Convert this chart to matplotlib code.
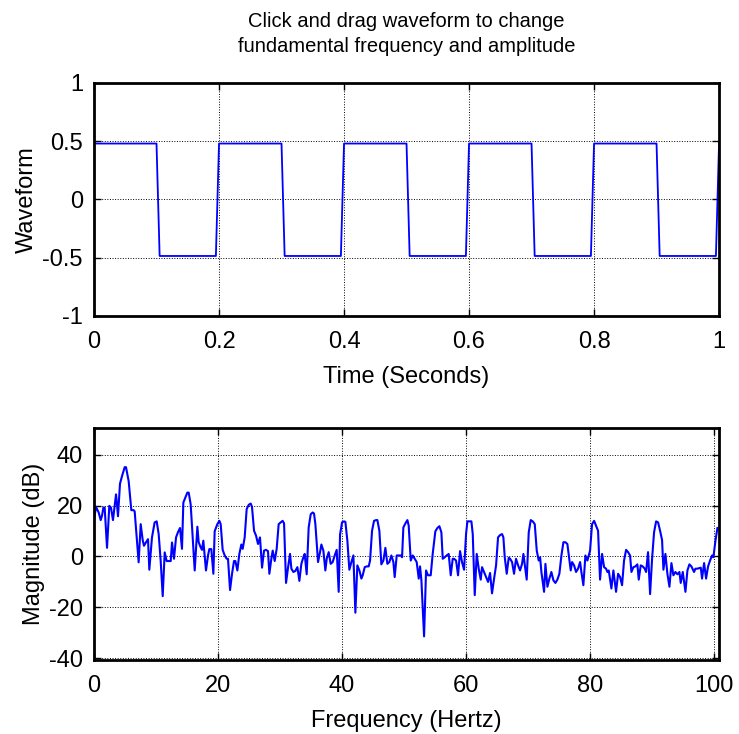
import matplotlib
matplotlib.use("Agg")
import matplotlib.pyplot as plt

plt.rcParams['font.family'] = ['Liberation Sans', 'DejaVu Sans']
plt.rcParams['axes.unicode_minus'] = False

# square wave, breakpoints
t_wave = [0, 0.1, 0.105, 0.195, 0.2, 0.3, 0.305, 0.395, 0.4, 0.5, 0.505, 0.595,
          0.6, 0.7, 0.705, 0.795, 0.8, 0.9, 0.905, 0.995, 1.0]
y_wave = [0.48, 0.48, -0.485, -0.485, 0.48, 0.48, -0.485, -0.485, 0.48, 0.48, -0.485, -0.485,
          0.48, 0.48, -0.485, -0.485, 0.48, 0.48, -0.485, -0.485, 0.48]

# spectrum (Hz, dB)
freq = [0.0, 0.32, 0.75, 1.08, 1.29, 1.51, 1.72, 2.10, 2.47, 2.74, 3.06, 3.55, 3.66, 3.87,
        4.19, 4.52, 4.95, 5.16, 5.59, 6.02, 6.40, 6.56, 6.88, 7.20, 7.53, 7.85, 8.06, 8.39,
        8.71, 8.92, 9.35, 9.78, 10.11, 10.43, 10.75, 11.08, 11.40, 11.72, 12.37, 12.58, 12.90,
        13.23, 13.55, 13.87, 14.19, 14.41, 14.73, 15.05, 15.27, 15.59, 15.91, 16.24, 16.67,
        16.88, 17.20, 17.42, 17.63, 18.06, 18.39, 18.60, 18.92, 19.25, 19.46, 19.89, 20.22,
        20.43, 20.75, 21.08, 21.40, 21.61, 21.94, 22.26, 22.58, 22.80, 23.12, 23.44, 23.76,
        23.98, 24.30, 24.62, 24.95, 25.27, 25.48, 25.81, 26.13, 26.45, 26.77, 27.10, 27.42,
        27.74, 28.06, 28.28, 28.60, 28.82, 29.14, 29.46, 29.78, 30.11, 30.43, 30.65, 30.97,
        31.29, 31.61, 31.83, 32.15, 32.47, 32.80, 33.12, 33.44,
        33.76, 33.98, 34.30, 34.62, 34.95, 35.27, 35.48, 35.70, 36.13, 36.45, 36.67, 36.99,
        37.31, 37.53, 37.85, 38.17, 38.49, 38.82, 39.14, 39.46, 39.68, 40.00, 40.32, 40.54,
        40.86, 41.18, 41.51, 41.83, 42.15, 42.47, 42.80, 43.12, 43.33, 43.66, 43.98, 44.30,
        44.52, 44.84, 45.16, 45.48, 45.70, 46.02, 46.34, 46.67, 46.99, 47.31, 47.63, 47.96,
        48.28, 48.49, 48.82, 49.14, 49.46, 49.68, 49.89, 50.22,
        50.54, 50.75, 51.08, 51.40, 51.72, 52.04, 52.37, 52.58, 52.80, 53.23, 53.55, 53.87,
        54.30, 54.62, 55.05, 55.38, 55.70, 56.02, 56.24, 56.56, 56.88, 57.20, 57.53, 57.85,
        58.06, 58.39, 58.71, 59.03, 59.35, 59.68, 60.00, 60.22, 60.54, 60.86, 61.08, 61.40,
        61.72, 62.04, 62.37, 62.58, 62.90, 63.23, 63.55, 63.87, 64.19, 64.52, 64.84, 65.16,
        65.48, 65.81, 66.02, 66.24, 66.56, 66.88,
        67.10, 67.42, 67.74, 68.06, 68.39, 68.71, 69.03, 69.25, 69.46, 69.78, 70.11, 70.43,
        70.75, 71.08, 71.40, 71.72, 71.94, 72.15, 72.58, 72.80, 73.12, 73.44, 73.76, 74.09,
        74.41, 74.73, 75.05, 75.38, 75.70, 76.02, 76.34, 76.67, 76.88, 77.10, 77.42, 77.74,
        78.06, 78.39, 78.60, 78.92, 79.25, 79.57, 80.00, 80.32, 80.65, 80.97, 81.29, 81.61,
        81.94, 82.26, 82.58, 82.80, 83.01, 83.44, 83.76,
        84.19, 84.52, 84.84, 85.16, 85.48, 85.81, 86.13, 86.45, 86.67, 86.99, 87.31, 87.63,
        87.85, 88.17, 88.49, 88.82, 89.03, 89.35, 89.68, 90.00, 90.32, 90.65, 90.97, 91.29,
        91.61, 91.83, 92.15, 92.47, 92.80, 93.12, 93.44, 93.76, 94.09, 94.41, 94.62, 94.95,
        95.38, 95.70, 96.02, 96.34, 96.77, 96.99, 97.31, 97.85, 98.06, 98.39, 98.71, 99.03,
        99.35, 99.68, 99.89, 100.22, 100.54]
mag = [14.3, 19.5, 17.3, 14.3, 16.0, 19.2, 19.2, 3.4, 19.9, 19.2, 14.3, 24.4, 21.8, 15.8,
       28.6, 31.6, 35.1, 35.1, 29.6, 18.2, 18.2, 17.7, 7.5, -2.3, 12.7, 6.5, 4.2, 5.6,
       6.8, -5.2, 7.5, 13.4, 13.8, 8.8, -1.6, -15.6, 1.6, -1.8, -1.8, 5.5, -0.9,
       7.5, 9.6, 11.2, 3.0, 21.2, 23.1, 25.1, 25.1, 20.5, 7.5, -5.5, 11.7,
       5.6, 3.6, 2.6, 6.2, -5.5, 0.4, 2.9, 2.9, -6.8, 9.9, 12.7, 14.0,
       12.7, 2.6, 0.4, -0.9, -0.9, -13.2, -6.8, -1.8, -1.8, -5.5, 1.0, 4.7,
       3.0, 7.5, 18.6, 20.3, 20.8, 19.5, 10.1, 8.2, 4.9, 7.5, -4.4, 2.3,
       2.6, 2.1, -6.8, -0.9, 2.3, -1.8, 3.0, 12.7, 13.4, 14.0, 13.0, -10.4,
       -4.4, 1.0, -4.8, -6.1, -5.7, -4.2, -9.6, -2.9,
       -0.3, 1.0, -7.0, 11.4, 16.6, 17.3, 16.9, 12.7, -2.2, 1.7, 4.7, 2.3,
       -5.5, -0.9, 1.7, -2.9, -2.2, 0.4, 2.6, -13.9, 8.6, 13.4, 13.8, 13.6,
       6.2, -5.2, -2.2, 0.4, -22.1, -3.5, -5.5, -8.7, -7.4, -4.2, -3.9, -3.9,
       -1.6, 10.1, 14.0, 14.3, 14.3, 10.1, -3.1, -1.6, 3.4, -2.9, -2.2, 0.4,
       -2.2, -8.1, 0.4, 0.4, 0.4, -0.3, 11.4, 13.0,
       14.3, 12.1, -1.6, 0.4, -0.9, -2.2, -8.7, -3.9, -9.4, -31.4, -5.5, -7.4,
       -7.4, 1.0, 9.9, 11.2, 11.9, 9.5, -0.9, -0.3, 0.4, 1.0, -7.4, -0.9,
       -0.9, -1.6, -7.4, 2.1, -2.2, -5.2, 8.8, 13.8, 13.8, 13.8, 8.8, -15.2,
       1.0, -4.8, -9.1, -4.2, -6.1, -8.1, -10.0, -6.5, -14.5, -8.7, -3.5, 7.5,
       8.4, 8.8, 7.5, -0.3, -6.8, -0.5,
       -0.9, -2.2, -6.8, -0.9, -3.5, -5.5, -2.9, 1.0, -2.9, -9.1, 9.5, 14.3,
       13.8, 12.7, 2.3, -1.6, -0.3, -6.1, -13.9, -2.9, -11.9, -8.7, -6.1, -9.4,
       -10.4, -9.1, -6.8, 0.4, 5.6, 5.6, 4.9, -1.6, -5.5, -2.2, -3.5, -6.1,
       -4.8, -2.2, -6.1, -11.3, 0.4, -1.6, 2.3, 12.7, 14.0, 12.1, 10.1, -9.1,
       1.0, -4.2, -4.8, -6.1, -5.5, -12.6, -5.5,
       -13.9, -6.8, -8.1, -11.3, -1.6, 2.6, 1.7, 0.4, -6.1, -4.2, -3.9, -3.1,
       -9.1, -3.5, -3.9, -4.8, -6.1, 1.7, -14.8, -0.9, 9.5, 13.8, 13.4, 10.1,
       6.5, -5.2, 1.0, -6.8, -11.9, -2.6, -7.4, -6.1, -7.0, -6.1, -10.4, -6.1,
       -13.9, -5.5, -3.1, -3.9, -6.1, -4.8, -4.8, -4.4, -8.7, -2.6, -8.7, -3.9,
       -1.6, 0.4, -0.3, 6.2, 11.2]

fs = 17

fig = plt.figure(figsize=(7.39, 7.34), dpi=100)
ax1 = fig.add_axes([0.1272, 0.5695, 0.8458, 0.3175])
ax2 = fig.add_axes([0.1272, 0.1008, 0.8458, 0.3161])

ax1.plot(t_wave, y_wave, color='blue', lw=1.3)
ax1.set_xlim(0, 1)
ax1.set_ylim(-1, 1)
ax1.set_xticks([0, 0.2, 0.4, 0.6, 0.8, 1])
ax1.set_xticklabels(['0', '0.2', '0.4', '0.6', '0.8', '1'])
ax1.set_yticks([-1, -0.5, 0, 0.5, 1])
ax1.set_yticklabels(['-1', '-0.5', '0', '0.5', '1'])
ax1.set_xlabel('Time (Seconds)', fontsize=fs, labelpad=9)
ax1.set_ylabel('Waveform', fontsize=fs, labelpad=3)
ax1.set_title('Click and drag waveform to change\nfundamental frequency and amplitude',
              fontsize=14.5, pad=22, linespacing=1.4)

ax2.plot(freq, mag, color='blue', lw=1.5)
ax2.set_xlim(0, 100.8)
ax2.set_ylim(-40.7, 50.5)
ax2.set_xticks([0, 20, 40, 60, 80, 100])
ax2.set_yticks([-40, -20, 0, 20, 40])
ax2.set_xlabel('Frequency (Hertz)', fontsize=fs, labelpad=9)
ax2.set_ylabel('Magnitude (dB)', fontsize=fs, labelpad=3)

for ax in (ax1, ax2):
    ax.grid(True, ls=':', color='black', lw=0.7)
    ax.tick_params(direction='in', top=True, right=True, length=5, width=1,
                   labelsize=fs)
    ax.tick_params(axis='x', pad=11)
    ax.tick_params(axis='y', pad=8)
    for s in ax.spines.values():
        s.set_linewidth(2)

plt.savefig('out.png')
